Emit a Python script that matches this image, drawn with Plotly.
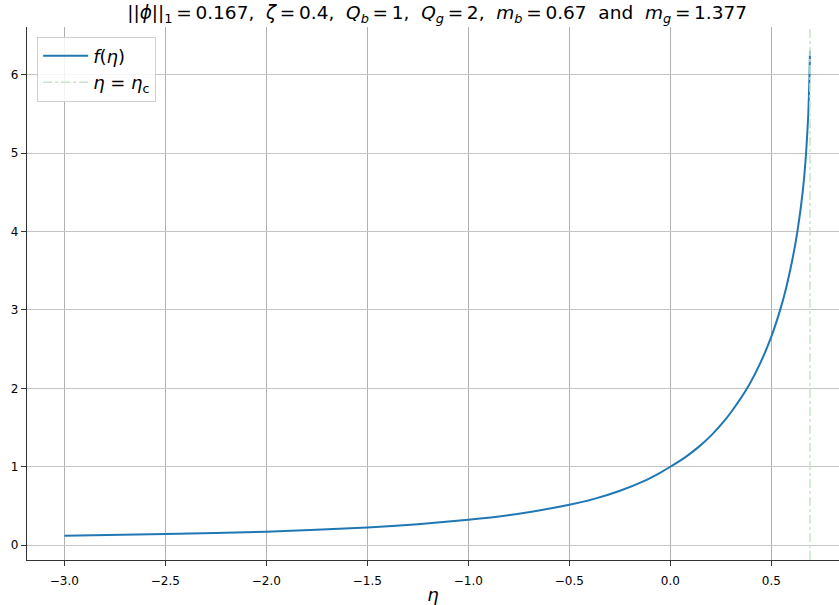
import plotly.graph_objects as go

# Values
eta = [-3.0, -2.5, -2.0, -1.5, -1.25, -1.0, -0.75, -0.5, -0.381, -0.249, -0.134,
       -0.051, 0.0, 0.073, 0.139, 0.205, 0.271, 0.3086, 0.381, 0.444, 0.5,
       0.546, 0.576, 0.6056, 0.629, 0.655, 0.672, 0.683, 0.689, 0.6914]
f_eta = [0.119, 0.141, 0.172, 0.225, 0.267, 0.322, 0.40, 0.515, 0.587, 0.694, 0.813,
         0.923, 1.0, 1.12, 1.25, 1.406, 1.597, 1.724, 2.004, 2.315, 2.66,
         3.02, 3.31, 3.66, 4.0, 4.5, 5.0, 5.5, 6.0, 6.31]
ETA_C = 0.6914

X_RANGE = [-3.185, 0.835]
Y_RANGE = [-0.19, 6.61]

sp = "\u2009=\u2009"
gap = "\u00a0\u00a0"
title_text = ("||<i>ϕ</i>||<sub>1</sub>" + sp + "0.167," + gap +
              "<i>ζ</i>" + sp + "0.4," + gap +
              "<i>Q</i><sub><i>b</i></sub>" + sp + "1," + gap +
              "<i>Q</i><sub><i>g</i></sub>" + sp + "2," + gap +
              "<i>m</i><sub><i>b</i></sub>" + sp + "0.67" + gap + "and" + gap +
              "<i>m</i><sub><i>g</i></sub>" + sp + "1.377")

fig = go.Figure()
fig.add_trace(go.Scatter(
    x=eta, y=f_eta, mode="lines",
    line=dict(color="#1f77b4", width=2, shape="spline", smoothing=0.5),
    name="<i>f</i>(<i>η</i>)"))
fig.add_trace(go.Scatter(
    x=[ETA_C, ETA_C], y=Y_RANGE, mode="lines",
    line=dict(color="rgb(200,228,200)", width=1.5, dash="dashdot"),
    name="<i>η</i> = <i>η</i><sub>c</sub>"))

axis_common = dict(
    showline=True, linecolor="#333333", linewidth=1.2,
    ticks="outside", ticklen=5, tickwidth=1, tickcolor="#333333",
    zeroline=False, mirror=False,
    tickfont=dict(family="DejaVu Sans", size=12, color="black"),
)

fig.update_layout(
    width=839, height=605,
    paper_bgcolor="white", plot_bgcolor="white",
    margin=dict(l=27, r=0, t=27, b=45, autoexpand=False),
    title=dict(text=title_text, x=0.521, xanchor="center", y=0.9785, yanchor="middle",
               font=dict(family="DejaVu Sans", size=18.5, color="black")),
    xaxis=dict(range=X_RANGE, dtick=0.5, tick0=0, tickformat=".1f",
               showgrid=True, gridcolor="#b0b0b0", gridwidth=1,
               ticklabelstandoff=4,
               title=dict(text="<i>η</i>", font=dict(family="DejaVu Sans", size=18, color="black"),
                          standoff=2),
               **axis_common),
    yaxis=dict(range=Y_RANGE, dtick=1, tick0=0,
               showgrid=True, gridcolor="#c4c4c4", gridwidth=1.3,
               **axis_common),
    legend=dict(x=0.0125, y=0.982, xanchor="left", yanchor="top",
                bgcolor="rgba(255,255,255,0.85)", bordercolor="#d0d0d0", borderwidth=1,
                font=dict(family="DejaVu Sans", size=18, color="black"),
                itemwidth=45, tracegroupgap=2),
    showlegend=True,
)

fig.write_html("out.html", config={"displayModeBar": False},
               post_script="document.body.style.margin='0';")
